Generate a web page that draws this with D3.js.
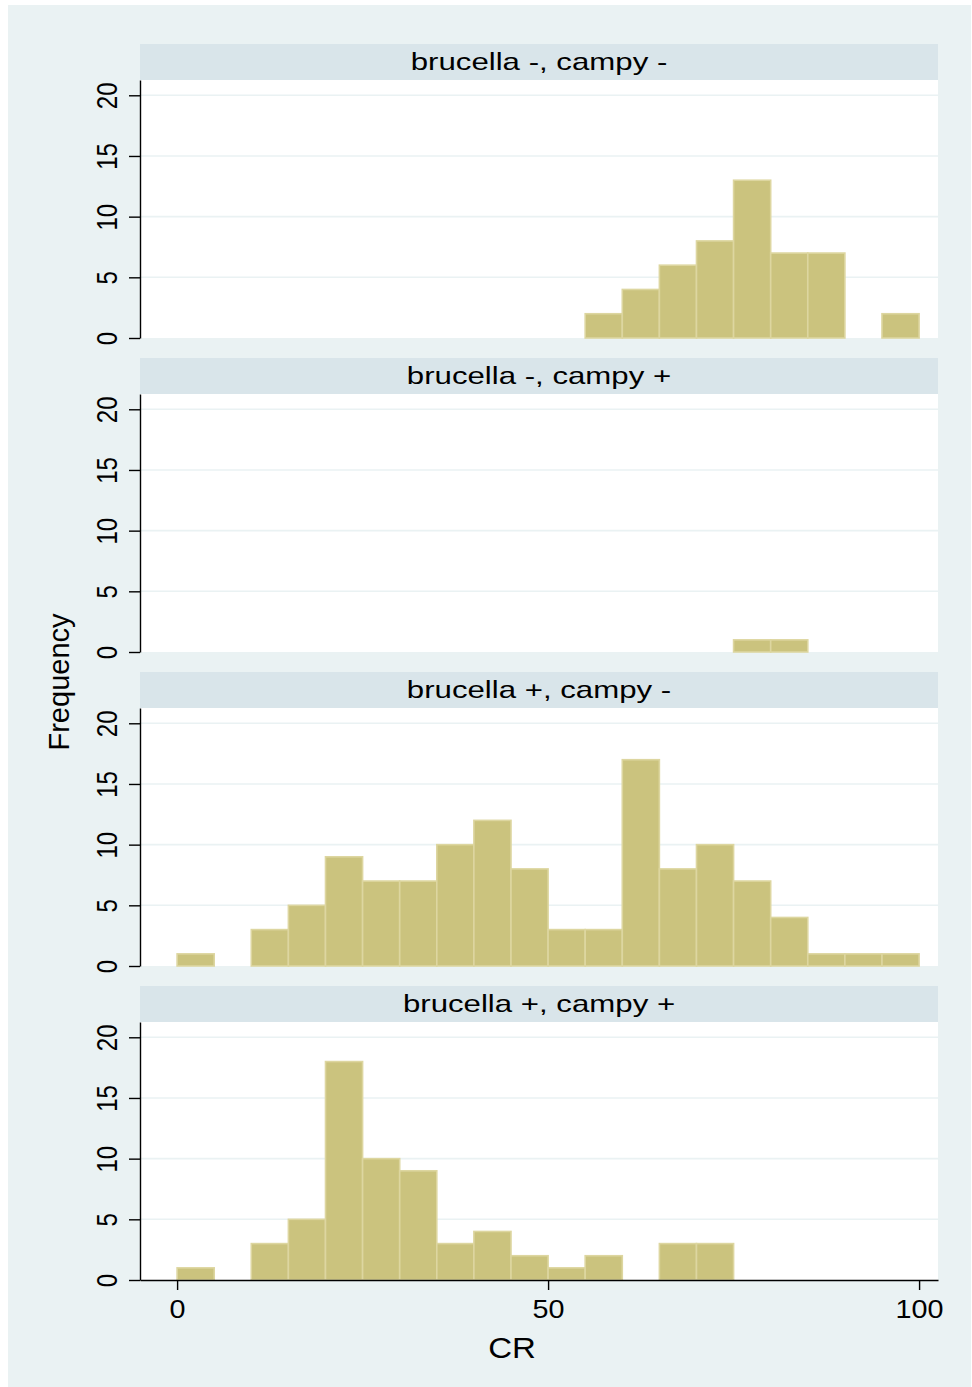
<!DOCTYPE html>
<html>
<head>
<meta charset="utf-8">
<script src="https://cdn.jsdelivr.net/npm/d3@7"></script>
<style>
  html, body { margin: 0; padding: 0; background: #ffffff; }
  svg { display: block; }
  text { font-family: "Liberation Sans", Arial, Helvetica, sans-serif; fill: #000; }
</style>
</head>
<body>
<svg id="chart" width="972" height="1387"></svg>
<script>
// Histogram of CR by brucella / campy status, bins of width 5
const binStarts = [0, 5, 10, 15, 20, 25, 30, 35, 40, 45, 50, 55, 60, 65, 70, 75, 80, 85, 90, 95];
const binWidth = 5;

const panelTitles = [
  "brucella -, campy -",
  "brucella -, campy +",
  "brucella +, campy -",
  "brucella +, campy +"
];

// frequency per bin, one array per panel (aligned with binStarts)
const freqBrucNegCampyNeg = [0, 0, 0, 0, 0, 0, 0, 0, 0, 0, 0, 2, 4, 6, 8, 13, 7, 7, 0, 2];
const freqBrucNegCampyPos = [0, 0, 0, 0, 0, 0, 0, 0, 0, 0, 0, 0, 0, 0, 0, 1, 1, 0, 0, 0];
const freqBrucPosCampyNeg = [1, 0, 3, 5, 9, 7, 7, 10, 12, 8, 3, 3, 17, 8, 10, 7, 4, 1, 1, 1];
const freqBrucPosCampyPos = [1, 0, 3, 5, 18, 10, 9, 3, 4, 2, 1, 2, 0, 3, 3, 0, 0, 0, 0, 0];

const panelFreqs = [freqBrucNegCampyNeg, freqBrucNegCampyPos, freqBrucPosCampyNeg, freqBrucPosCampyPos];

const yTicks = [0, 5, 10, 15, 20];
const xTicks = [0, 50, 100];
const xTitle = "CR";
const yTitle = "Frequency";

// ---- layout ----
const bg = "#eaf2f3";
const stripFill = "#d9e5ea";
const barFill = "#cbc37e";
const barStroke = "#ddd6a0";

const plotLeft = 140, plotWidth = 798;
const firstStripTop = 44, stripH = 36, plotH = 258, panelStep = 314;

const svg = d3.select("#chart");

// outer graph region
svg.append("rect")
  .attr("x", 8).attr("y", 5)
  .attr("width", 963).attr("height", 1382)
  .attr("fill", bg);

const x = d3.scaleLinear().domain([-5, 102.55]).range([0, plotWidth]);
const y = d3.scaleLinear().domain([0, 21.26]).range([plotH, 0]);

panelFreqs.forEach((freqs, i) => {
  const stripTop = firstStripTop + i * panelStep;
  const plotTop = stripTop + stripH;

  // strip with panel title
  svg.append("rect")
    .attr("x", plotLeft).attr("y", stripTop)
    .attr("width", plotWidth).attr("height", stripH)
    .attr("fill", stripFill);
  svg.append("text")
    .attr("text-anchor", "middle")
    .attr("font-size", 24)
    .attr("transform", `translate(${plotLeft + plotWidth / 2},${stripTop + 25.5}) scale(1.3,1)`)
    .text(panelTitles[i]);

  const g = svg.append("g").attr("transform", `translate(${plotLeft},${plotTop})`);

  // plot region
  g.append("rect")
    .attr("x", 0).attr("y", 0)
    .attr("width", plotWidth).attr("height", plotH)
    .attr("fill", "#ffffff");

  // horizontal grid lines
  g.selectAll("line.grid")
    .data(yTicks.filter(t => t > 0))
    .join("line")
    .attr("class", "grid")
    .attr("x1", 0).attr("x2", plotWidth)
    .attr("y1", d => y(d)).attr("y2", d => y(d))
    .attr("stroke", bg)
    .attr("stroke-width", 1.6);

  // histogram bars
  const bins = binStarts.map((b, k) => ({ start: b, n: freqs[k] })).filter(d => d.n > 0);
  g.selectAll("rect.bar")
    .data(bins)
    .join("rect")
    .attr("class", "bar")
    .attr("x", d => x(d.start))
    .attr("width", d => x(d.start + binWidth) - x(d.start))
    .attr("y", d => y(d.n))
    .attr("height", d => y(0) - y(d.n))
    .attr("fill", barFill)
    .attr("stroke", barStroke)
    .attr("stroke-width", 1.6);

  // y axis
  const yAxis = g.append("g")
    .call(d3.axisLeft(y).tickValues(yTicks).tickSize(11).tickSizeOuter(0).tickFormat(d3.format("d")));
  yAxis.select(".domain").attr("stroke", "#000").attr("stroke-width", 1.4);
  yAxis.selectAll(".tick line").attr("stroke", "#000").attr("stroke-width", 1.4);
  yAxis.selectAll(".tick text")
    .attr("x", null).attr("dy", null)
    .attr("text-anchor", "middle")
    .attr("font-family", null)
    .attr("font-size", 24)
    .attr("fill", "#000")
    .attr("transform", `translate(${117 - plotLeft},0) scale(1.26,1) rotate(-90)`);

  // x axis on the bottom panel only
  if (i === panelFreqs.length - 1) {
    const xAxis = g.append("g")
      .attr("transform", `translate(0,${plotH})`)
      .call(d3.axisBottom(x).tickValues(xTicks).tickSize(10).tickSizeOuter(0).tickFormat(d3.format("d")));
    xAxis.select(".domain").attr("stroke", "#000").attr("stroke-width", 1.4);
    xAxis.selectAll(".tick line").attr("stroke", "#000").attr("stroke-width", 1.4);
    xAxis.selectAll(".tick text")
      .attr("y", null).attr("dy", null)
      .attr("text-anchor", "middle")
      .attr("font-family", null)
      .attr("font-size", 25)
      .attr("fill", "#000")
      .attr("transform", "translate(0,38) scale(1.15,1)");
  }
});

// axis titles
svg.append("text")
  .attr("text-anchor", "middle")
  .attr("font-size", 30)
  .attr("transform", "translate(512,1358) scale(1.1,1)")
  .text(xTitle);

svg.append("text")
  .attr("text-anchor", "middle")
  .attr("font-size", 29)
  .attr("transform", "translate(69,682) rotate(-90)")
  .text(yTitle);
</script>
</body>
</html>
